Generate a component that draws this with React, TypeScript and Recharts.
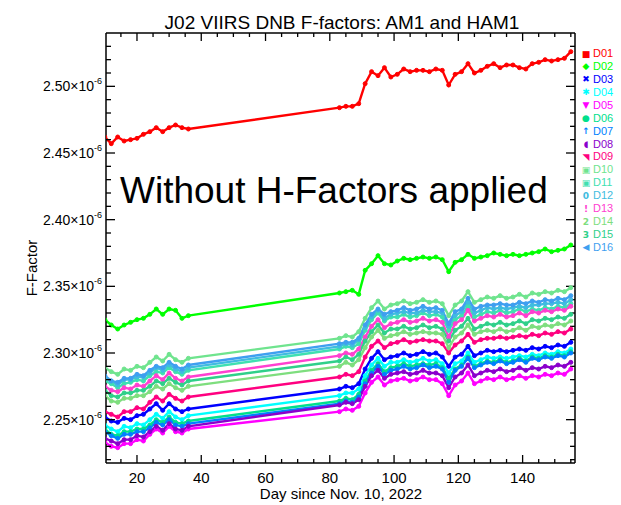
import { LineChart, Line, XAxis, YAxis, ReferenceLine } from "recharts";

// days since Nov. 10, 2022 (two collection periods)
const DAYS = [
  10, 12, 14, 16, 18, 20, 22, 24, 26, 28, 30, 32, 34, 36,
  83, 85, 87, 89, 91, 93, 95, 97, 99, 101, 103, 105, 107, 109, 111, 113, 115, 117, 119,
  121, 123, 125, 127, 129, 131, 133, 135, 137, 139, 141, 143, 145, 147, 149, 151, 153, 155,
];

// F-factor values, units of 1e-6
const D01 = [2.462, 2.457, 2.462, 2.459, 2.460, 2.461, 2.464, 2.466, 2.469, 2.466, 2.469, 2.471, 2.469, 2.468,
  2.484, 2.485, 2.485, 2.487, 2.502, 2.511, 2.508, 2.514, 2.507, 2.509, 2.513, 2.511, 2.512, 2.512, 2.511, 2.513, 2.512, 2.501, 2.509,
  2.511, 2.517, 2.510, 2.512, 2.515, 2.517, 2.514, 2.516, 2.516, 2.514, 2.513, 2.517, 2.518, 2.520, 2.519, 2.520, 2.521, 2.526];
const D02 = [2.325, 2.321, 2.318, 2.321, 2.323, 2.325, 2.326, 2.329, 2.333, 2.329, 2.333, 2.332, 2.326, 2.328,
  2.345, 2.346, 2.347, 2.344, 2.362, 2.367, 2.373, 2.367, 2.366, 2.369, 2.371, 2.370, 2.371, 2.372, 2.371, 2.372, 2.370, 2.361, 2.368,
  2.370, 2.374, 2.371, 2.372, 2.373, 2.375, 2.374, 2.373, 2.374, 2.373, 2.374, 2.375, 2.376, 2.378, 2.376, 2.377, 2.378, 2.381];
const D03 = [2.252, 2.249, 2.248, 2.251, 2.250, 2.253, 2.254, 2.258, 2.262, 2.257, 2.262, 2.258, 2.256, 2.258,
  2.273, 2.275, 2.274, 2.277, 2.288, 2.296, 2.301, 2.295, 2.297, 2.298, 2.300, 2.298, 2.299, 2.301, 2.299, 2.300, 2.297, 2.290, 2.297,
  2.299, 2.305, 2.298, 2.300, 2.302, 2.301, 2.302, 2.301, 2.302, 2.303, 2.302, 2.304, 2.303, 2.305, 2.304, 2.306, 2.305, 2.308];
const D04 = [2.246, 2.243, 2.241, 2.245, 2.244, 2.247, 2.246, 2.250, 2.254, 2.251, 2.256, 2.252, 2.250, 2.253,
  2.268, 2.270, 2.270, 2.273, 2.283, 2.291, 2.296, 2.290, 2.293, 2.293, 2.295, 2.293, 2.294, 2.296, 2.294, 2.295, 2.292, 2.285, 2.292,
  2.294, 2.300, 2.293, 2.295, 2.297, 2.296, 2.297, 2.296, 2.297, 2.298, 2.297, 2.299, 2.298, 2.300, 2.299, 2.301, 2.300, 2.303];
const D05 = [2.233, 2.230, 2.229, 2.232, 2.232, 2.235, 2.234, 2.239, 2.243, 2.240, 2.245, 2.241, 2.240, 2.243,
  2.256, 2.258, 2.257, 2.260, 2.270, 2.278, 2.282, 2.276, 2.279, 2.280, 2.281, 2.279, 2.280, 2.282, 2.280, 2.280, 2.277, 2.268, 2.276,
  2.279, 2.285, 2.277, 2.279, 2.281, 2.280, 2.282, 2.280, 2.281, 2.283, 2.281, 2.283, 2.282, 2.284, 2.283, 2.285, 2.284, 2.288];
const D06 = [2.243, 2.239, 2.238, 2.241, 2.241, 2.243, 2.243, 2.246, 2.250, 2.248, 2.252, 2.248, 2.247, 2.249,
  2.264, 2.266, 2.265, 2.269, 2.279, 2.287, 2.292, 2.286, 2.289, 2.290, 2.292, 2.290, 2.291, 2.292, 2.291, 2.292, 2.289, 2.281, 2.288,
  2.291, 2.297, 2.290, 2.292, 2.294, 2.293, 2.295, 2.293, 2.294, 2.296, 2.294, 2.297, 2.296, 2.298, 2.297, 2.299, 2.298, 2.301];
const D07 = [2.241, 2.238, 2.236, 2.239, 2.239, 2.241, 2.241, 2.244, 2.248, 2.246, 2.250, 2.246, 2.245, 2.247,
  2.262, 2.264, 2.263, 2.267, 2.277, 2.285, 2.290, 2.284, 2.287, 2.288, 2.290, 2.288, 2.289, 2.291, 2.289, 2.290, 2.288, 2.278, 2.287,
  2.290, 2.296, 2.289, 2.291, 2.293, 2.292, 2.294, 2.292, 2.293, 2.295, 2.293, 2.296, 2.295, 2.297, 2.296, 2.298, 2.297, 2.300];
const D08 = [2.236, 2.234, 2.232, 2.235, 2.235, 2.238, 2.237, 2.241, 2.245, 2.242, 2.247, 2.243, 2.242, 2.245,
  2.261, 2.263, 2.262, 2.265, 2.275, 2.283, 2.287, 2.281, 2.284, 2.285, 2.286, 2.284, 2.285, 2.287, 2.285, 2.285, 2.283, 2.274, 2.282,
  2.285, 2.291, 2.283, 2.285, 2.287, 2.286, 2.288, 2.286, 2.287, 2.289, 2.287, 2.289, 2.288, 2.290, 2.289, 2.291, 2.290, 2.293];
const D09 = [2.256, 2.254, 2.252, 2.256, 2.256, 2.259, 2.258, 2.263, 2.267, 2.264, 2.269, 2.266, 2.264, 2.267,
  2.282, 2.284, 2.283, 2.286, 2.297, 2.305, 2.309, 2.304, 2.307, 2.308, 2.310, 2.308, 2.309, 2.310, 2.309, 2.309, 2.307, 2.300, 2.306,
  2.309, 2.314, 2.308, 2.310, 2.311, 2.311, 2.312, 2.311, 2.312, 2.313, 2.312, 2.314, 2.313, 2.315, 2.314, 2.316, 2.315, 2.318];
const D10 = [2.289, 2.286, 2.284, 2.288, 2.287, 2.290, 2.289, 2.293, 2.297, 2.294, 2.299, 2.295, 2.293, 2.296,
  2.311, 2.313, 2.312, 2.316, 2.326, 2.334, 2.339, 2.333, 2.336, 2.337, 2.339, 2.337, 2.338, 2.340, 2.338, 2.339, 2.337, 2.328, 2.336,
  2.339, 2.346, 2.338, 2.340, 2.342, 2.341, 2.343, 2.341, 2.342, 2.344, 2.342, 2.345, 2.344, 2.346, 2.345, 2.347, 2.346, 2.349];
const D11 = [2.279, 2.277, 2.274, 2.277, 2.278, 2.280, 2.279, 2.283, 2.286, 2.285, 2.289, 2.286, 2.284, 2.287,
  2.303, 2.305, 2.304, 2.307, 2.317, 2.325, 2.330, 2.324, 2.327, 2.327, 2.329, 2.327, 2.328, 2.330, 2.328, 2.329, 2.327, 2.317, 2.325,
  2.328, 2.335, 2.327, 2.329, 2.331, 2.330, 2.332, 2.330, 2.331, 2.333, 2.331, 2.333, 2.332, 2.334, 2.333, 2.335, 2.334, 2.337];
const D12 = [2.281, 2.279, 2.276, 2.280, 2.280, 2.282, 2.282, 2.285, 2.289, 2.287, 2.291, 2.288, 2.286, 2.289,
  2.305, 2.307, 2.306, 2.310, 2.319, 2.327, 2.332, 2.326, 2.329, 2.330, 2.331, 2.330, 2.330, 2.332, 2.331, 2.331, 2.330, 2.320, 2.328,
  2.331, 2.338, 2.330, 2.332, 2.334, 2.333, 2.334, 2.333, 2.334, 2.335, 2.334, 2.336, 2.336, 2.337, 2.337, 2.338, 2.337, 2.340];
const D13 = [2.275, 2.272, 2.271, 2.274, 2.273, 2.276, 2.275, 2.279, 2.283, 2.280, 2.285, 2.281, 2.279, 2.282,
  2.298, 2.300, 2.299, 2.303, 2.312, 2.320, 2.325, 2.319, 2.322, 2.323, 2.325, 2.323, 2.324, 2.326, 2.324, 2.325, 2.323, 2.312, 2.322,
  2.325, 2.332, 2.324, 2.326, 2.328, 2.327, 2.329, 2.327, 2.328, 2.330, 2.328, 2.331, 2.330, 2.332, 2.331, 2.333, 2.332, 2.335];
const D14 = [2.268, 2.264, 2.263, 2.266, 2.266, 2.268, 2.268, 2.271, 2.275, 2.273, 2.277, 2.274, 2.272, 2.275,
  2.290, 2.293, 2.291, 2.295, 2.304, 2.312, 2.317, 2.311, 2.313, 2.314, 2.316, 2.314, 2.315, 2.316, 2.315, 2.315, 2.314, 2.304, 2.312,
  2.315, 2.321, 2.314, 2.316, 2.317, 2.316, 2.318, 2.316, 2.317, 2.319, 2.317, 2.320, 2.319, 2.321, 2.320, 2.322, 2.321, 2.324];
const D15 = [2.272, 2.268, 2.267, 2.270, 2.270, 2.272, 2.272, 2.275, 2.279, 2.277, 2.281, 2.278, 2.276, 2.279,
  2.294, 2.297, 2.295, 2.299, 2.309, 2.316, 2.321, 2.315, 2.318, 2.318, 2.320, 2.318, 2.319, 2.321, 2.319, 2.320, 2.318, 2.309, 2.317,
  2.320, 2.326, 2.318, 2.320, 2.322, 2.321, 2.323, 2.321, 2.322, 2.324, 2.322, 2.325, 2.324, 2.326, 2.325, 2.327, 2.326, 2.329];
const D16 = [2.283, 2.279, 2.278, 2.281, 2.281, 2.284, 2.283, 2.287, 2.290, 2.289, 2.293, 2.290, 2.288, 2.291,
  2.307, 2.308, 2.308, 2.311, 2.321, 2.329, 2.333, 2.329, 2.331, 2.332, 2.334, 2.332, 2.333, 2.335, 2.333, 2.334, 2.332, 2.322, 2.331,
  2.333, 2.341, 2.333, 2.335, 2.336, 2.336, 2.337, 2.336, 2.336, 2.338, 2.337, 2.339, 2.338, 2.340, 2.339, 2.341, 2.340, 2.343];

const SERIES = [
  { key: "D01", color: "#ff0000", mark: "■", values: D01 },
  { key: "D02", color: "#00ff00", mark: "◆", values: D02 },
  { key: "D03", color: "#0000ff", mark: "✖", values: D03 },
  { key: "D04", color: "#00ffff", mark: "✱", values: D04 },
  { key: "D05", color: "#ff00ff", mark: "▼", values: D05 },
  { key: "D06", color: "#00e08c", mark: "●", values: D06 },
  { key: "D07", color: "#0080ff", mark: "↑", values: D07 },
  { key: "D08", color: "#8a00cc", mark: "◖", values: D08 },
  { key: "D09", color: "#ff0080", mark: "◥", values: D09 },
  { key: "D10", color: "#6fe48e", mark: "▣", values: D10 },
  { key: "D11", color: "#3fe0b0", mark: "▣", values: D11 },
  { key: "D12", color: "#3fbce0", mark: "0", values: D12 },
  { key: "D13", color: "#ff40d0", mark: "!", values: D13 },
  { key: "D14", color: "#7ede7e", mark: "2", values: D14 },
  { key: "D15", color: "#2fd08a", mark: "3", values: D15 },
  { key: "D16", color: "#3f9ff0", mark: "◀", values: D16 },
];

const X_DOMAIN = [10.36, 156.3];
const Y_DOMAIN = [2.2175, 2.54];
const X_TICKS = [15, 20, 25, 30, 35, 40, 45, 50, 55, 60, 65, 70, 75, 80, 85, 90, 95, 100, 105, 110, 115, 120, 125, 130, 135, 140, 145, 150, 155];
const Y_TICKS = [2.22, 2.23, 2.24, 2.25, 2.26, 2.27, 2.28, 2.29, 2.30, 2.31, 2.32, 2.33, 2.34, 2.35, 2.36, 2.37, 2.38, 2.39, 2.40, 2.41, 2.42, 2.43, 2.44, 2.45, 2.46, 2.47, 2.48, 2.49, 2.50, 2.51, 2.52, 2.53];

const rows = DAYS.map((day, i) => {
  const r: Record<string, number> = { day };
  SERIES.forEach((s) => (r[s.key] = s.values[i]));
  return r;
});

const W = 621;
const H = 505;
const MARGIN = { top: 33, right: 46, bottom: 0, left: 0 };
const PLOT_TOP = MARGIN.top;
const PLOT_RIGHT = W - MARGIN.right;

const FONT = "'Liberation Sans', Arial, Helvetica, sans-serif";
const isMajorX = (v: number) => v % 20 === 0;
const isMajorY = (v: number) => Math.round(v * 100) % 5 === 0;

function XTick({ x, y, payload }: any) {
  const major = isMajorX(payload.value);
  return (
    <g>
      <line x1={x} y1={y} x2={x} y2={y - (major ? 8 : 4)} stroke="#000" strokeWidth={1.3} />
      {major && (
        <text x={x} y={y + 20} textAnchor="middle" fontSize={15} fontFamily={FONT} fill="#000">
          {payload.value}
        </text>
      )}
    </g>
  );
}

function YTick({ x, y, payload }: any) {
  const v = payload.value;
  const major = isMajorY(v);
  return (
    <g>
      <line x1={x} y1={y} x2={x + (major ? 9 : 5)} y2={y} stroke="#000" strokeWidth={1.3} />
      {major && (
        <text x={x - 4} y={y + 5} textAnchor="end" fontSize={14} fontFamily={FONT} fill="#000">
          {v.toFixed(2)}×10<tspan dy={-7} fontSize={9}>-6</tspan>
        </text>
      )}
    </g>
  );
}

export default function App() {
  return (
    <div style={{ position: "absolute", left: 0, top: 0, width: W, height: H, background: "#fff" }}>
      <LineChart width={W} height={H} data={rows} margin={MARGIN}>
        <XAxis
          xAxisId="b"
          dataKey="day"
          type="number"
          domain={X_DOMAIN}
          allowDataOverflow
          ticks={X_TICKS}
          interval={0}
          tick={<XTick />}
          tickLine={false}
          tickSize={0}
          tickMargin={0}
          height={42}
          axisLine={{ stroke: "#000", strokeWidth: 1.5 }}
        />
        <YAxis
          yAxisId="l"
          type="number"
          domain={Y_DOMAIN}
          allowDataOverflow
          ticks={Y_TICKS}
          interval={0}
          tick={<YTick />}
          tickLine={false}
          tickSize={0}
          tickMargin={0}
          width={106}
          axisLine={{ stroke: "#000", strokeWidth: 1.5 }}
        />
        {/* inward ticks mirrored on the top and right sides of the frame */}
        {X_TICKS.map((t) => (
          <ReferenceLine
            key={"tx" + t}
            xAxisId="b"
            yAxisId="l"
            segment={[{ x: t, y: Y_DOMAIN[1] }, { x: t, y: Y_DOMAIN[1] - (isMajorX(t) ? 0.006 : 0.003) }]}
            stroke="#000"
            strokeWidth={1.3}
            ifOverflow="visible"
          />
        ))}
        {Y_TICKS.map((t) => (
          <ReferenceLine
            key={"ry" + t}
            xAxisId="b"
            yAxisId="l"
            segment={[{ x: X_DOMAIN[1], y: t }, { x: X_DOMAIN[1] - (isMajorY(t) ? 2.8 : 1.55), y: t }]}
            stroke="#000"
            strokeWidth={1.3}
            ifOverflow="visible"
          />
        ))}
        {SERIES.map((s) => (
          <Line
            key={s.key}
            xAxisId="b"
            yAxisId="l"
            type="linear"
            dataKey={s.key}
            stroke={s.color}
            strokeWidth={2.4}
            dot={{ r: 2, fill: s.color, stroke: s.color, strokeWidth: 1 }}
            isAnimationActive={false}
          />
        ))}
      </LineChart>
      <svg width={W} height={H} style={{ position: "absolute", left: 0, top: 0, pointerEvents: "none" }}>
        {/* top and right sides of the plot frame */}
        <line x1={106} y1={PLOT_TOP} x2={PLOT_RIGHT} y2={PLOT_TOP} stroke="#000" strokeWidth={1.5} />
        <line x1={PLOT_RIGHT} y1={PLOT_TOP} x2={PLOT_RIGHT} y2={H - 42} stroke="#000" strokeWidth={1.5} />
        <text x={342} y={29} textAnchor="middle" fontSize={19} fontFamily={FONT} fill="#000">
          J02 VIIRS DNB F-factors: AM1 and HAM1
        </text>
        <text x={120} y={203} fontSize={37} fontFamily={FONT} fill="#000">
          Without H-Factors applied
        </text>
        <text x={341} y={499} textAnchor="middle" fontSize={15} fontFamily={FONT} fill="#000">
          Day since Nov. 10, 2022
        </text>
        <text x={37} y={268} textAnchor="middle" fontSize={15} fontFamily={FONT} fill="#000" transform="rotate(-90 37 268)">
          F-Factor
        </text>
        {SERIES.map((s, i) => (
          <g key={s.key}>
            <text x={586} y={53 + i * 12.93 + 3.5} textAnchor="middle" fontSize={9} fontFamily="'DejaVu Sans', sans-serif" fontWeight="bold" fill={s.color}>
              {s.mark}
            </text>
            <text x={593} y={53 + i * 12.93 + 4} fontSize={11} fontFamily={FONT} fill={s.color}>
              {s.key}
            </text>
          </g>
        ))}
      </svg>
    </div>
  );
}
